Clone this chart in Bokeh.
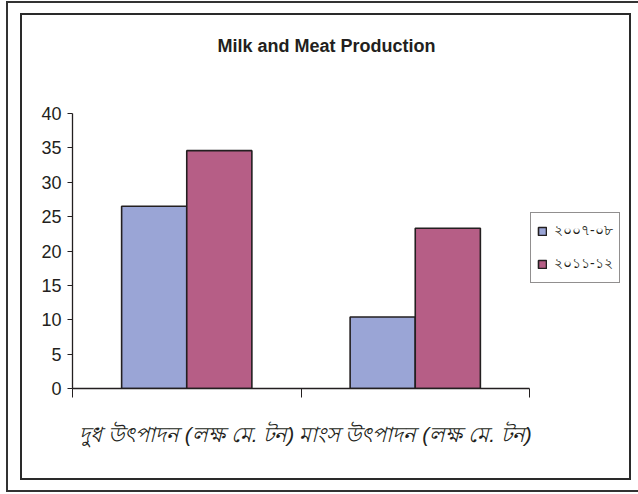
from bokeh.plotting import figure
from bokeh.models import (Range1d, FixedTicker, LinearAxis, Legend, LegendItem, Label,
                          ColumnDataSource)
from bokeh.transform import dodge
from bokeh.embed import file_html
from bokeh.resources import INLINE

title_text = "Milk and Meat Production"
categories = ["দুধ উৎপাদন (লক্ষ মে. টন)", "মাংস উৎপাদন (লক্ষ মে. টন)"]
years = ["২০০৭-০৮", "২০১১-১২"]
values_2007 = [26.5, 10.4]
values_2011 = [34.6, 23.3]
y_ticks = [0, 5, 10, 15, 20, 25, 30, 35, 40]

colors = ["#9AA5D6", "#B65E86"]
ink = "#231F20"

n = len(categories)
ymax = y_ticks[-1]
centers = [i + 0.5 for i in range(n)]
source = ColumnDataSource(dict(x=centers, v1=values_2007, v2=values_2011))

# layout in pixels: axes region and (larger) drawing frame
W, H = 638, 494
ax_left, ax_right, ax_top, ax_bottom = 72, 529, 113, 388
fr_right, fr_top = 628, 25
x_end = n * (fr_right - ax_left) / (ax_right - ax_left)
y_end = ymax * (ax_bottom - fr_top) / (ax_bottom - ax_top)

# decorative double frame drawn with CSS inset shadows (first listed is on top)
frame_css = ", ".join([
    "inset 6px 0 0 0 #fff", "inset 0 1px 0 0 #fff", "inset 0 -2px 0 0 #fff",
    "inset 8px 0 0 0 #333", "inset 0 3px 0 0 #333", "inset 0 -4px 0 0 #333",
    "inset 20px 0 0 0 #fff", "inset 0 13px 0 0 #fff", "inset -7px 0 0 0 #fff", "inset 0 -14px 0 0 #fff",
    "inset 22px 0 0 0 #2a2a2a", "inset 0 15px 0 0 #2a2a2a", "inset -9px 0 0 0 #2a2a2a", "inset 0 -16px 0 0 #2a2a2a",
])

p = figure(width=W, height=H, x_range=Range1d(0, x_end),
           y_range=Range1d(0, y_end), output_backend="svg", toolbar_location=None,
           x_axis_location=None, y_axis_location=None,
           min_border_left=ax_left, min_border_right=W - fr_right, min_border_top=fr_top,
           min_border_bottom=H - ax_bottom)
p.styles = {"background-color": "#ffffff", "box-shadow": frame_css}
p.outline_line_color = None
p.xgrid.visible = False
p.ygrid.visible = False
p.background_fill_color = "white"
p.border_fill_alpha = 0

bw = 0.285
r1 = p.vbar(x=dodge("x", -bw / 2), top="v1", width=bw, source=source,
            fill_color=colors[0], line_color=ink, line_width=1.6)
r2 = p.vbar(x=dodge("x", bw / 2), top="v2", width=bw, source=source,
            fill_color=colors[1], line_color=ink, line_width=1.6)

# y axis
yax = LinearAxis(ticker=FixedTicker(ticks=y_ticks), bounds=(0, ymax))
yax.axis_line_color = ink
yax.axis_line_width = 1.3
yax.major_tick_line_color = ink
yax.major_tick_in = 0
yax.major_tick_out = 5
yax.minor_tick_line_color = None
yax.major_label_text_font = "Liberation Sans"
yax.major_label_text_font_size = "18px"
yax.major_label_text_color = ink
yax.major_label_standoff = 6
p.add_layout(yax, "left")

# x axis: line with ticks at category boundaries
xedge = LinearAxis(ticker=FixedTicker(ticks=list(range(n + 1))), bounds=(0, n))
xedge.axis_line_color = ink
xedge.axis_line_width = 1.3
xedge.major_tick_line_color = ink
xedge.major_tick_in = 0
xedge.major_tick_out = 9
xedge.minor_tick_line_color = None
xedge.major_label_text_font_size = "0px"
xedge.major_label_standoff = 0
p.add_layout(xedge, "below")

# category labels
xcat = LinearAxis(ticker=FixedTicker(ticks=centers),
                  major_label_overrides={c: lab for c, lab in zip(centers, categories)})
xcat.axis_line_color = None
xcat.major_tick_line_color = None
xcat.minor_tick_line_color = None
xcat.major_label_text_font_size = "21px"
xcat.major_label_text_font_style = "italic"
xcat.major_label_text_color = ink
xcat.major_label_standoff = 19
p.add_layout(xcat, "below")

legend = Legend(items=[LegendItem(label=years[0], renderers=[r1]),
                       LegendItem(label=years[1], renderers=[r2])],
                location=(530 - ax_left, ax_bottom - 283))
legend.border_line_color = ink
legend.border_line_width = 1.2
legend.background_fill_color = "white"
legend.background_fill_alpha = 1
legend.glyph_width = 10
legend.glyph_height = 10
legend.label_height = 20
legend.spacing = 9
legend.padding = 6
legend.margin = 0
legend.label_standoff = 7
legend.label_text_font_size = "14px"
legend.label_text_color = ink
p.add_layout(legend, "center")

# title (placed at pixel 326, 45 of the picture)
tx = (326 - ax_left) / (ax_right - ax_left) * n
ty = (ax_bottom - 45) / (ax_bottom - ax_top) * ymax
p.add_layout(Label(x=tx, y=ty, text=title_text, text_align="center", text_baseline="middle",
                   text_font="Liberation Sans", text_font_style="bold", text_font_size="18px",
                   text_color=ink))

open("out.html", "w").write(file_html(p, INLINE))
